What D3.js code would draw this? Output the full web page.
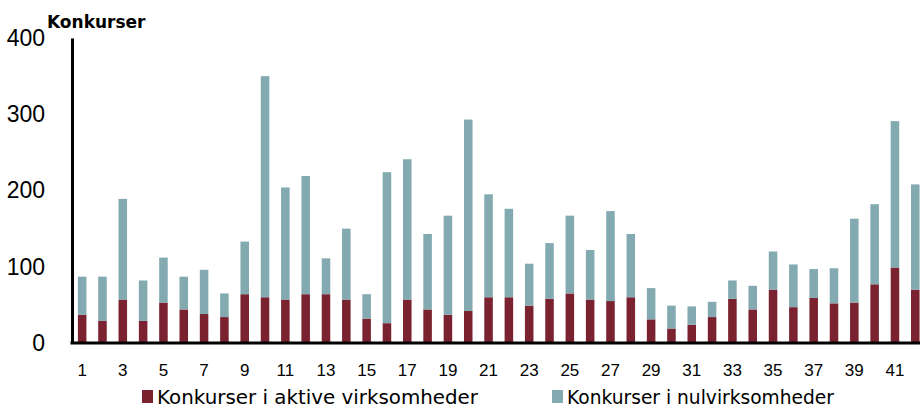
<!DOCTYPE html>
<html>
<head>
<meta charset="utf-8">
<script src="https://cdn.jsdelivr.net/npm/d3@7"></script>
<style>
  body { margin: 0; background: #fff; }
  svg { display: block; font-family: "Century Gothic", "DejaVu Sans", sans-serif; }
</style>
</head>
<body>
<svg id="chart" width="920" height="408"></svg>
<script>
// data, periods 1..42
var periods = d3.range(1, 43);
var aktive = [37, 29, 57, 29, 53, 44, 38, 34, 64, 60, 57, 64, 64, 57, 32, 26, 57, 44, 37, 42,
              60, 60, 49, 58, 65, 57, 55, 60, 31, 19, 24, 34, 58, 44, 70, 47, 59, 52, 53, 77,
              99, 70];
var totals = [87, 87, 189, 82, 112, 87, 96, 65, 133, 350, 204, 219, 111, 150, 64, 224, 241, 143, 167, 293,
              195, 176, 104, 131, 167, 122, 173, 143, 72, 49, 48, 54, 82, 75, 120, 103, 97, 98, 163, 182,
              291, 208];
var nul = totals.map((t, i) => t - aktive[i]);
var yTicks = [0, 100, 200, 300, 400];
var seriesNames = ['Konkurser i aktive virksomheder', 'Konkurser i nulvirksomheder'];
var colors = ['#7b2230', '#82aab0'];

var rows = periods.map((p, i) => ({ period: p, aktive: aktive[i], nul: nul[i] }));
var stack = d3.stack().keys(['aktive', 'nul'])(rows);

var svg = d3.select('#chart');
var margin = { left: 72, top: 38, bottom: 65 };

var x = d3.scaleBand()
    .domain(periods)
    .range([margin.left, margin.left + 42 * 20.32])
    .paddingInner(0.58)
    .paddingOuter(0.29);

var y = d3.scaleLinear()
    .domain([0, 400])
    .range([343, margin.top]);

svg.append('g')
    .selectAll('g')
    .data(stack)
    .enter().append('g')
        .attr('fill', (d, i) => colors[i])
    .selectAll('rect')
    .data(d => d)
    .enter().append('rect')
        .attr('x', d => x(d.data.period))
        .attr('width', x.bandwidth())
        .attr('y', d => y(d[1]))
        .attr('height', d => y(d[0]) - y(d[1]));

// y axis
var yAxis = svg.append('g')
    .attr('transform', `translate(${margin.left},0)`)
    .call(d3.axisLeft(y).tickValues(yTicks).tickSize(0).tickPadding(27));
yAxis.select('.domain').attr('stroke', '#000').attr('stroke-width', 3);
yAxis.selectAll('text').style('font-size', '23px').attr('fill', '#000');

// x axis, only odd labels
var xAxis = svg.append('g')
    .attr('transform', `translate(0,${y(0)})`)
    .call(d3.axisBottom(x).tickSize(0).tickPadding(21)
        .tickFormat(d => d % 2 === 1 ? d : ''));
xAxis.select('.domain').attr('stroke', '#000').attr('stroke-width', 3)
    .attr('d', `M${margin.left - 1.5},0H920`);
xAxis.selectAll('text').style('font-size', '17px').attr('fill', '#000');

svg.append('text')
    .attr('x', 47)
    .attr('y', 28)
    .style('font-size', '17px')
    .style('font-weight', 'bold')
    .text('Konkurser');

// legend
var legendX = [142, 552];
var legendW = [321, 267];
var legend = svg.append('g')
    .selectAll('g')
    .data(seriesNames)
    .enter().append('g')
        .attr('transform', (d, i) => `translate(${legendX[i]},390)`);
legend.append('rect')
    .attr('width', 11)
    .attr('height', 13)
    .attr('fill', (d, i) => colors[i]);
legend.append('text')
    .attr('x', 15)
    .attr('y', 14)
    .style('font-size', '20px')
    .attr('textLength', (d, i) => legendW[i])
    .attr('lengthAdjust', 'spacingAndGlyphs')
    .text(d => d);
</script>
</body>
</html>
